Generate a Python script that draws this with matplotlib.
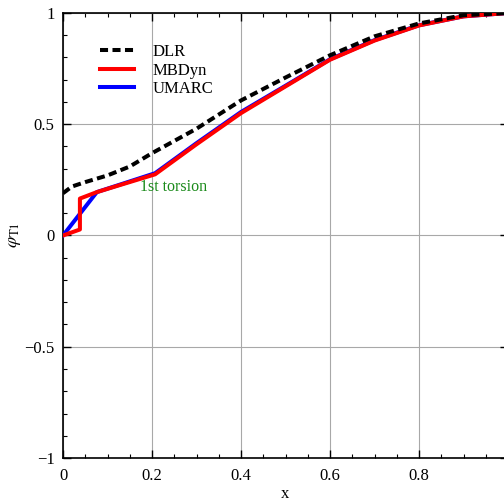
import matplotlib
matplotlib.use("Agg")
import matplotlib.pyplot as plt
from matplotlib.ticker import MultipleLocator, FuncFormatter

plt.rcParams['font.family'] = ['Liberation Serif', 'DejaVu Serif']
plt.rcParams['mathtext.fontset'] = 'stix'

dlr_x = [0.0, 0.02, 0.05, 0.1, 0.15, 0.2, 0.3, 0.4, 0.5, 0.6, 0.7, 0.8, 0.9, 1.0]
dlr_y = [0.19, 0.22, 0.24, 0.27, 0.31, 0.37, 0.48, 0.607, 0.71, 0.81, 0.895, 0.953, 0.99, 1.0]

mbd_x = [0.0, 0.038, 0.038, 0.076, 0.207, 0.3, 0.4, 0.5, 0.6, 0.7, 0.8, 0.9, 1.0]
mbd_y = [0.0, 0.027, 0.166, 0.195, 0.275, 0.41, 0.55, 0.67, 0.79, 0.876, 0.944, 0.985, 1.0]

uma_x = [0.0, 0.076, 0.207, 0.3, 0.4, 0.5, 0.6, 0.7, 0.8, 0.9, 1.0]
uma_y = [0.0, 0.195, 0.28, 0.415, 0.555, 0.673, 0.792, 0.878, 0.945, 0.985, 1.0]

fig = plt.figure(figsize=(5.04, 5.01), dpi=100)
ax = fig.add_axes([63/504, 1-458/501, 445/504, 445/501])

ax.plot(uma_x, uma_y, color='#0000ff', lw=2.9, label='UMARC', zorder=3)
ax.plot(mbd_x, mbd_y, color='#ff0000', lw=2.9, label='MBDyn', zorder=4)
ax.plot(dlr_x, dlr_y, color='black', lw=2.9, ls=(0, (2.0, 1.1)), label='DLR', zorder=5)

ax.text(0.173, 0.22, '1st torsion', color='#1a8a1a', fontsize=11.5, va='center', ha='left')

ax.set_xlim(0, 1)
ax.set_ylim(-1, 1)
ax.xaxis.set_major_locator(MultipleLocator(0.2))
ax.xaxis.set_minor_locator(MultipleLocator(0.05))
ax.yaxis.set_major_locator(MultipleLocator(0.5))
ax.yaxis.set_minor_locator(MultipleLocator(0.1))

def fmt(v, pos):
    if abs(v) < 1e-9:
        return '0'
    s = ('%g' % v)
    return s.replace('-', '\u2212')

def xfmt(v, pos):
    if v > 0.99:
        return ''
    return fmt(v, pos)

ax.xaxis.set_major_formatter(FuncFormatter(xfmt))
ax.yaxis.set_major_formatter(FuncFormatter(fmt))

ax.tick_params(which='both', direction='in', top=True, right=True, labelsize=12)
ax.tick_params(which='major', length=6, width=1)
ax.tick_params(which='minor', length=3, width=0.8)
ax.tick_params(axis='x', pad=7)
ax.tick_params(axis='y', pad=6)
for s in ax.spines.values():
    s.set_linewidth(1.2)
ax.grid(True, which='major', color='#a8a8a8', lw=0.8, ls='-')

ax.set_xlabel('x', fontsize=12)
ax.xaxis.set_label_coords(0.5, -0.062)
ax.set_ylabel(r'$\varphi_{\mathrm{T1}}$', fontsize=13)
ax.yaxis.set_label_coords(-0.09, 0.5)

handles, labels = ax.get_legend_handles_labels()
order = [2, 1, 0]
ax.legend([handles[i] for i in order], [labels[i] for i in order],
          loc='upper left', bbox_to_anchor=(0.05, 0.964), frameon=False,
          fontsize=12, handlelength=2.0, handletextpad=1.15, labelspacing=0.15)

fig.savefig('out.png', dpi=100)
